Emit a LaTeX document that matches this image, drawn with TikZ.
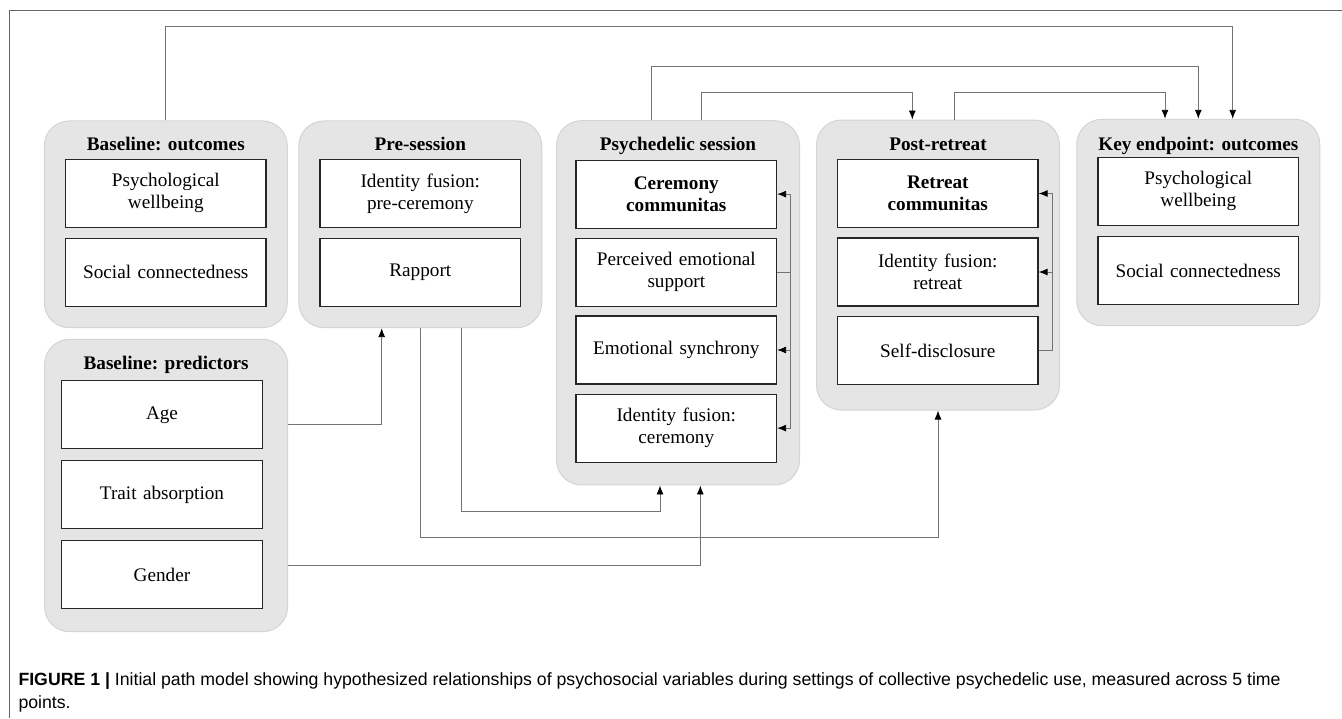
\documentclass[tikz,border=0pt]{standalone}
\usepackage{fontspec}
\setmainfont{Liberation Serif}
\newfontfamily\captionFont{Liberation Sans}
\usetikzlibrary{positioning,calc,arrows.meta}
\definecolor{panelGrey}{rgb}{0.9,0.9,0.9}
\definecolor{panelEdge}{rgb}{0.83,0.83,0.83}
\definecolor{pathGrey}{rgb}{0.45,0.45,0.45}
\definecolor{frameGrey}{rgb}{0.4,0.4,0.4}
\tikzstyle{panel}      = [draw=panelEdge, fill=panelGrey, line width=1pt, rounded corners=25pt, minimum width=243pt]
\tikzstyle{panelTitle} = [anchor=base, inner sep=0pt, font=\fontsize{19.2}{22}\selectfont\bfseries]
\tikzstyle{varBox}     = [draw=black!85, fill=white, line width=1.2pt, minimum width=200.5pt, minimum height=68pt, text width=196pt, align=center, inner sep=0pt, font=\fontsize{19.2}{22}\selectfont]
\tikzstyle{pathLine}   = [draw=pathGrey, line width=0.9pt]
\tikzstyle{pathArrow}  = [pathLine, -{Latex[length=9pt,width=7pt,color=black]}]
\tikzset{
  capText/.style={anchor=base west, inner sep=0pt, font=\captionFont\fontsize{17.7}{23}\selectfont}
}

\begin{document}
\begin{tikzpicture}[x=1pt,y=-1pt]
	\useasboundingbox (0,0) rectangle (1342,718);
	\draw[frameGrey, line width=0.9pt] (1342,10.7) -- (9.3,10.7) -- (9.3,718);

	% panels
	\node[panel, minimum height=206.7pt] (baseOut)  at (165.8,224.3) {};
	\node[panel, minimum height=206.7pt] (preSes)   at (420.3,224.3) {};
	\node[panel, minimum height=364.3pt] (psySes)   at (678,302.8) {};
	\node[panel, minimum height=290pt]   (postRet)  at (938,265) {};
	\node[panel, minimum height=206.4pt] (keyEnd)   at (1198.3,222.5) {};
	\node[panel, minimum height=292.4pt] (basePred) at (166.1,485.5) {};

	\node[panelTitle] (baseOutT)  at (165.8,150.7)  {Baseline: outcomes};
	\node[panelTitle] (preSesT)   at (420.3,150.7)  {Pre-session};
	\node[panelTitle] (psySesT)   at (678,150.2)    {Psychedelic session};
	\node[panelTitle] (postRetT)  at (938,150.2)    {Post-retreat};
	\node[panelTitle] (keyEndT)   at (1198.3,150.7) {Key endpoint: outcomes};
	\node[panelTitle] (basePredT) at (166.1,369)    {Baseline: predictors};

	% variables
	\node[varBox] (bo1) at (165.8,193.1)  {Psychological\\wellbeing};
	\node[varBox] (bo2) at (165.8,272.1)  {Social connectedness};
	\node[varBox] (pr1) at (420.3,193.5)  {Identity fusion:\\pre-ceremony};
	\node[varBox] (pr2) at (420.3,272.4)  {Rapport};
	\node[varBox] (ps1) at (676.3,194.1)  {\textbf{Ceremony}\\\textbf{communitas}};
	\node[varBox] (ps2) at (676.3,272.1)  {Perceived emotional\\support};
	\node[varBox] (ps3) at (676.3,350)    {Emotional synchrony};
	\node[varBox] (ps4) at (676.3,428.1)  {Identity fusion:\\ceremony};
	\node[varBox] (po1) at (937.8,193.5)  {\textbf{Retreat}\\\textbf{communitas}};
	\node[varBox] (po2) at (937.8,272)    {Identity fusion:\\retreat};
	\node[varBox] (po3) at (937.8,350.5)  {Self-disclosure};
	\node[varBox] (ke1) at (1198.3,191.3) {Psychological\\wellbeing};
	\node[varBox] (ke2) at (1198.3,270.5) {Social connectedness};
	\node[varBox] (bp1) at (162,414.8)    {Age};
	\node[varBox] (bp2) at (162,494.7)    {Trait absorption};
	\node[varBox] (bp3) at (162,574.5)    {Gender};

	% paths between time points
	\draw[pathArrow] (baseOut.north) -- ++(0,-93.7) -| ([xshift=34.4pt]keyEnd.north);
	\draw[pathArrow] ([xshift=-27pt]psySes.north) -- ++(0,-53.4) -| (keyEnd.north);
	\draw[pathArrow] ([xshift=23.7pt]psySes.north) -- ++(0,-28) -| ([xshift=-25.7pt]postRet.north);
	\draw[pathArrow] ([xshift=16pt]postRet.north) -- ++(0,-27.3) -| ([xshift=-33.3pt]keyEnd.north);
	\draw[pathArrow] (basePred.east |- 0,424) -| ([xshift=-38.6pt]preSes.south);
	\draw[pathArrow] ([xshift=41.4pt]preSes.south) -- ++(0,183.3) -| ([xshift=-18pt]psySes.south);
	\draw[pathArrow] (preSes.south) -- ++(0,209) -| (postRet.south);
	\draw[pathArrow] (basePred.east |- 0,565) -| ([xshift=22.3pt]psySes.south);

	% paths within a time point
	\draw[pathArrow] (ps2.east) -- ++(13.3,0) |- (ps1.east);
	\draw[pathArrow] (ps2.east) -- ++(13.3,0) |- (ps3.east);
	\draw[pathArrow] (ps2.east) -- ++(13.3,0) |- (ps4.east);
	\draw[pathArrow] (po3.east) -- ++(13.7,0) |- (po1.east);
	\draw[pathArrow] (po3.east) -- ++(13.7,0) |- (po2.east);

	% caption
	\node[capText] (capLine1) at (18.3,685) {\textbf{FIGURE 1 |} Initial path model showing hypothesized relationships of psychosocial variables during settings of collective psychedelic use, measured across 5 time};
	\node[capText] (capLine2) at (18.3,708) {points.};
\end{tikzpicture}
\end{document}
